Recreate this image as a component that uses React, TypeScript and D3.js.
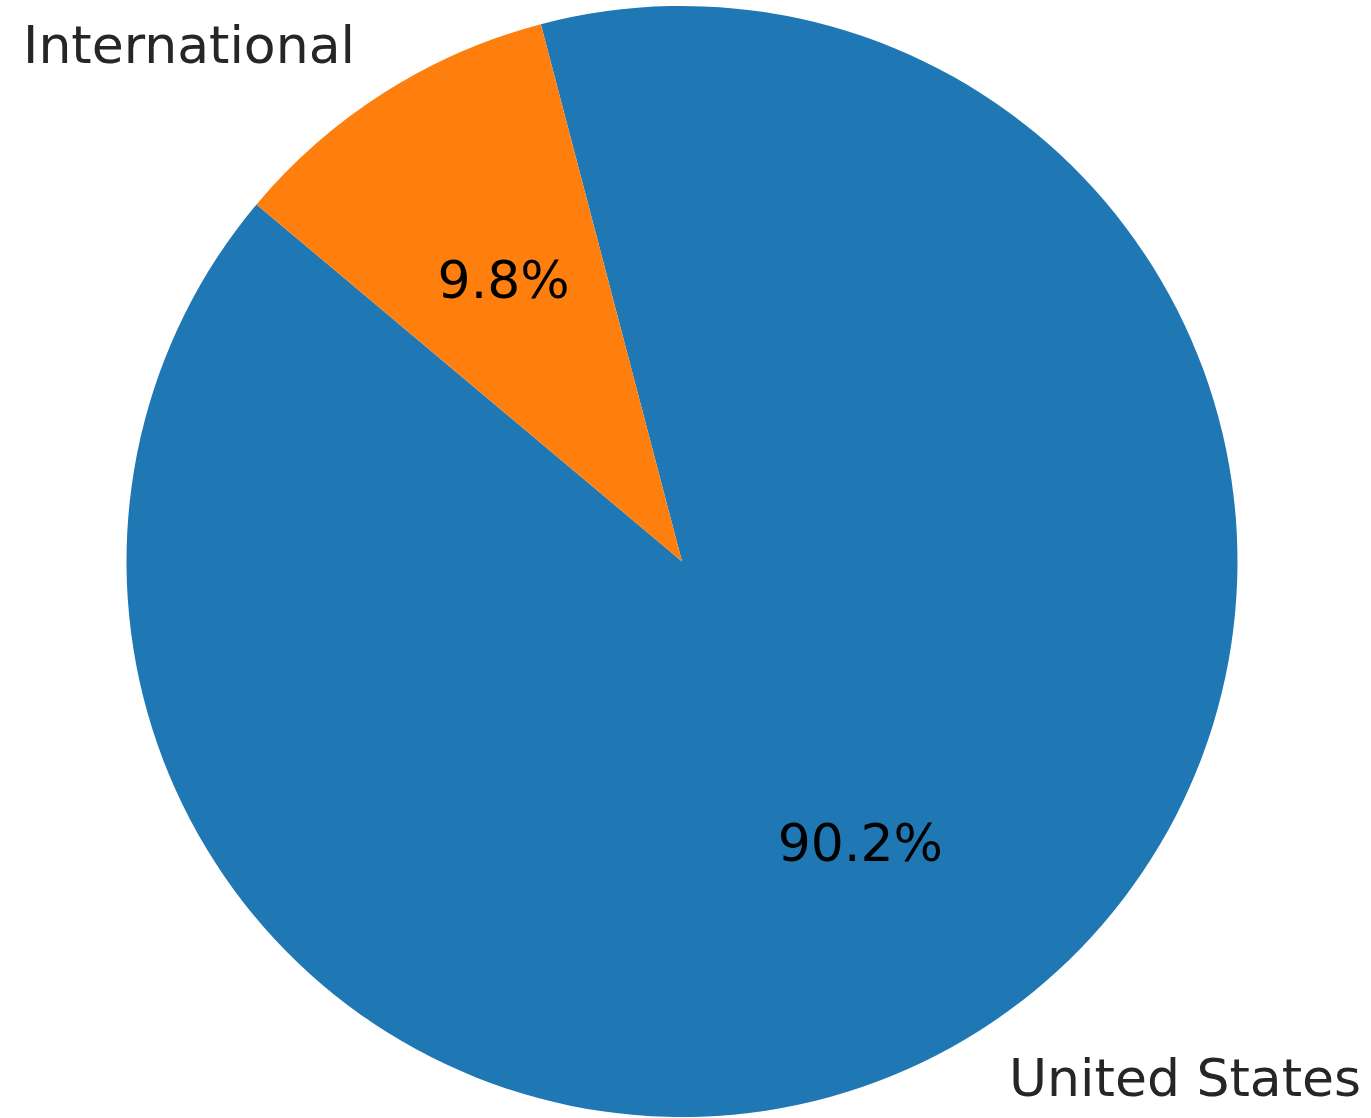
import React from "react";
import * as d3 from "d3";

const categories = ["United States", "International"];
const values = [90.2, 9.8];
const colors = ["#1f77b4", "#ff7f0e"];

const W = 1371;
const H = 1118;
const cx = 682;
const cy = 561.5;
const R = 555.5;
const startAngleDeg = 140;
const fontSize = 52;

export default function App() {
  const total = d3.sum(values);
  // matplotlib: counterclockwise from startangle (math coords)
  let acc = startAngleDeg;
  const slices = values.map((v, i) => {
    const sweep = (v / total) * 360;
    const a0 = acc;
    const a1 = acc + sweep;
    acc = a1;
    return { i, v, a0, a1 };
  });
  // convert math angle (deg, ccw from +x) to d3 angle (rad, cw from 12 o'clock)
  const toD3 = (deg: number) => ((90 - deg) * Math.PI) / 180;
  const arcGen = d3.arc<any>().innerRadius(0).outerRadius(R);

  return (
    <svg
      width={W}
      height={H}
      style={{ position: "absolute", left: 0, top: 0, background: "#fff" }}
      fontFamily="DejaVu Sans"
    >
      <g transform={`translate(${cx},${cy})`}>
        {slices.map((s) => (
          <path
            key={s.i}
            d={arcGen({ startAngle: toD3(s.a1), endAngle: toD3(s.a0) }) as string}
            fill={colors[s.i]}
          />
        ))}
        {slices.map((s) => {
          const mid = ((s.a0 + s.a1) / 2) * (Math.PI / 180);
          const lx = 1.1 * R * Math.cos(mid);
          const ly = -1.1 * R * Math.sin(mid);
          const px = 0.6 * R * Math.cos(mid);
          const py = -0.6 * R * Math.sin(mid);
          const pct = ((s.v / total) * 100).toFixed(1) + "%";
          return (
            <g key={"t" + s.i}>
              <text
                x={lx}
                y={ly}
                fontSize={fontSize}
                fill="#262626"
                textAnchor={lx > 0 ? "start" : "end"}
                dominantBaseline="central"
              >
                {categories[s.i]}
              </text>
              <text
                x={px}
                y={py}
                fontSize={fontSize}
                fill="#000"
                textAnchor="middle"
                dominantBaseline="central"
              >
                {pct}
              </text>
            </g>
          );
        })}
      </g>
    </svg>
  );
}
